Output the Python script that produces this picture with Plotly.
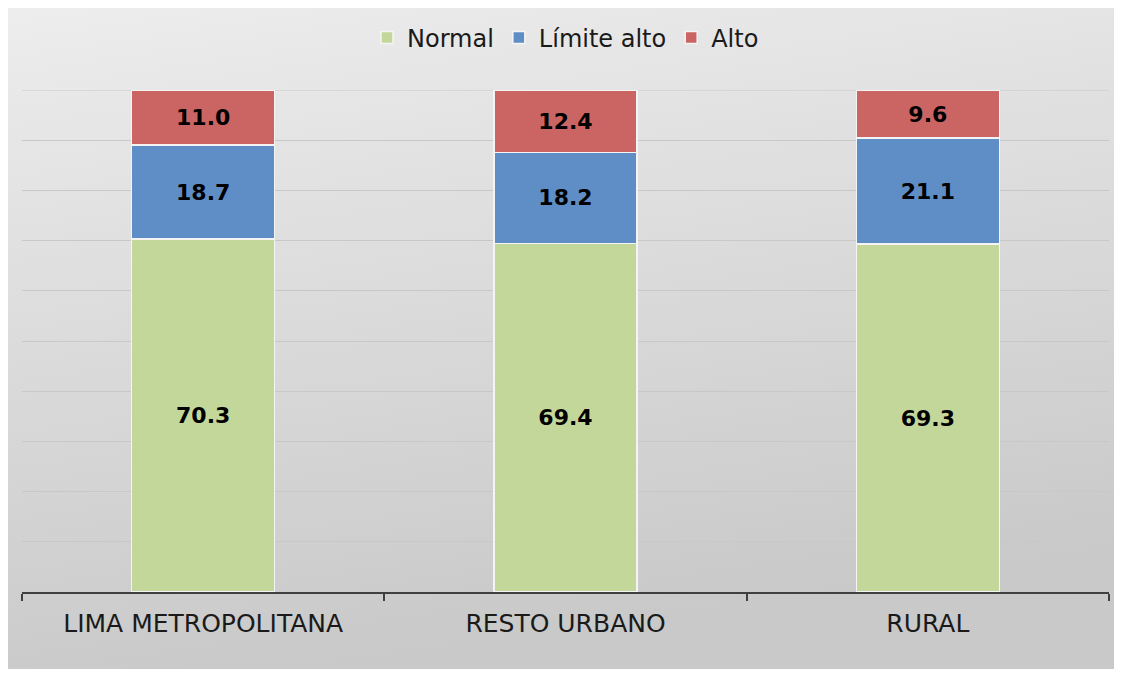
import base64
import plotly.graph_objects as go

categories = ["LIMA METROPOLITANA", "RESTO URBANO", "RURAL"]
normal = [70.3, 69.4, 69.3]
limite_alto = [18.7, 18.2, 21.1]
alto = [11.0, 12.4, 9.6]
series_names = ["Normal", "Límite alto", "Alto"]

# page is rendered with an 8px body margin, so the figure is sized to fit
OFF = 8
W, H = 1122 - OFF, 673 - OFF
ML, MT = 22 - OFF, 90 - OFF
MR = W - (1109 - OFF)
MB = H - (592 - OFF)
PW, PH = W - ML - MR, H - MT - MB

svg = (
    '<svg xmlns="http://www.w3.org/2000/svg" width="1000" height="600" preserveAspectRatio="none">'
    '<defs><linearGradient id="g" x1="0" y1="0" x2="0.25" y2="1">'
    '<stop offset="0" stop-color="#ededed"/><stop offset="1" stop-color="#c9c9c9"/>'
    '</linearGradient></defs><rect width="1000" height="600" fill="url(#g)"/></svg>'
)
src = "data:image/svg+xml;base64," + base64.b64encode(svg.encode()).decode()

colors = ["#c4d79b", "#5f8ec6", "#cb6563"]
fig = go.Figure()
for name, vals, col in zip(series_names, [normal, limite_alto, alto], colors):
    fig.add_trace(go.Bar(
        x=categories, y=vals, name=name,
        marker=dict(color=col, line=dict(color="#f4f4f4", width=1.5)),
        texttemplate="<b>%{y:.1f}</b>", textposition="inside", insidetextanchor="middle",
        textfont=dict(family="DejaVu Sans", size=22, color="#000000"),
        constraintext="none",
    ))

bg_x0, bg_y0, bg_x1, bg_y1 = 6 - OFF, 5 - OFF, 1120 - OFF, 669 - OFF
fig.add_layout_image(dict(
    source=src, xref="paper", yref="paper",
    x=(bg_x0 - ML) / PW, y=1 + (MT - bg_y0) / PH,
    sizex=(bg_x1 - bg_x0) / PW, sizey=(bg_y1 - bg_y0) / PH,
    xanchor="left", yanchor="top", sizing="stretch", layer="below",
))
# top gridline (at the axis maximum)
fig.add_shape(type="line", xref="paper", yref="y", x0=0, x1=1, y0=100, y1=100,
              line=dict(color="#c8c8c8", width=1), layer="below")

fig.update_layout(
    width=W, height=H, barmode="stack", bargap=0.605,
    margin=dict(l=ML, r=MR, t=MT, b=MB, pad=0, autoexpand=False),
    paper_bgcolor="white", plot_bgcolor="rgba(0,0,0,0)",
    font=dict(family="DejaVu Sans", size=22, color="#1a1a1a"),
    legend=dict(orientation="h", x=0.5, xanchor="center", y=1 + 52 / PH, yanchor="middle",
                bgcolor="rgba(0,0,0,0)", font=dict(size=24, family="DejaVu Sans", color="#1a1a1a"),
                itemwidth=30, traceorder="normal"),
    showlegend=True,
)
fig.update_xaxes(showline=True, linecolor="#404040", linewidth=2, ticks="outside",
                 tickson="boundaries", ticklen=7, tickwidth=2, tickcolor="#404040",
                 ticklabelstandoff=8, automargin=False,
                 tickfont=dict(family="DejaVu Sans", size=25, color="#1a1a1a"),
                 showgrid=False)
fig.update_yaxes(range=[0, 100], dtick=10, showticklabels=False, showgrid=True,
                 gridcolor="#c8c8c8", gridwidth=1, zeroline=False, automargin=False)

fig.write_html("out.html")
